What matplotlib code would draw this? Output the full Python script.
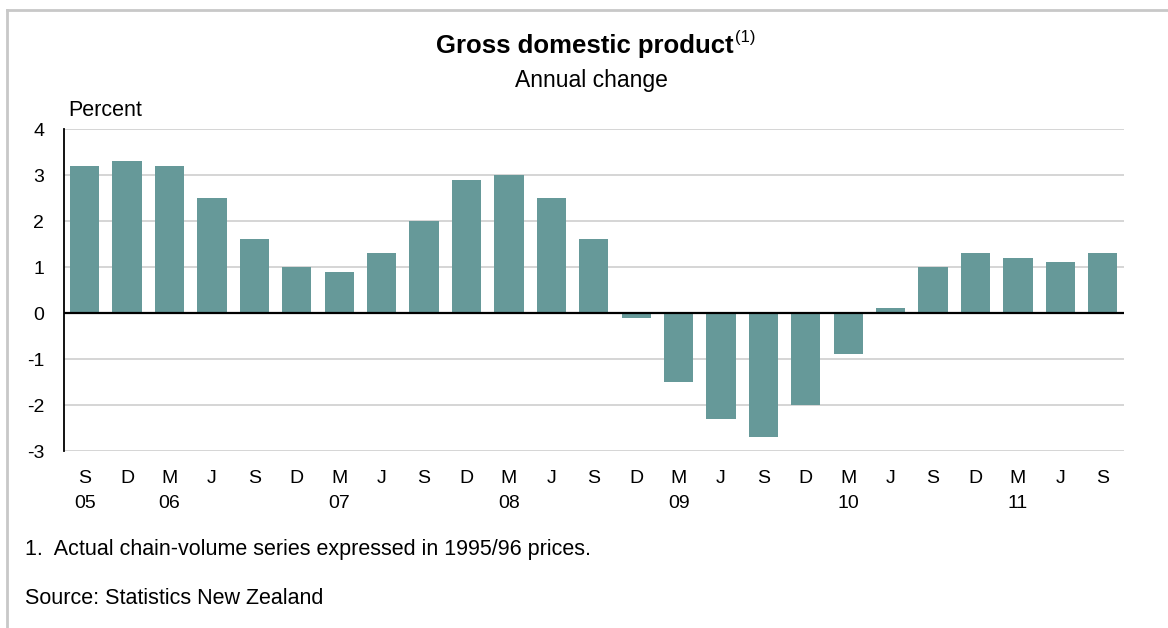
import matplotlib.pyplot as plt
from matplotlib.lines import Line2D

plt.rcParams['font.family'] = ['Liberation Sans', 'DejaVu Sans']

# Quarterly annual change in GDP, Sep 2005 - Sep 2011
quarters = ['S', 'D', 'M', 'J'] * 6 + ['S']
years = ['05', '', '06', '', '', '', '07', '', '', '', '08', '', '', '',
         '09', '', '', '', '10', '', '', '', '11', '', '']
gdp_change = [3.2, 3.3, 3.2, 2.5, 1.6, 1.0, 0.9, 1.3, 2.0, 2.9, 3.0, 2.5, 1.6,
              -0.1, -1.5, -2.3, -2.7, -2.0, -0.9, 0.1, 1.0, 1.3, 1.2, 1.1, 1.3]
yticks = [-3, -2, -1, 0, 1, 2, 3, 4]

bar_color = '#669999'
W, H = 1168, 628

fig = plt.figure(figsize=(W / 100, H / 100), dpi=100)
ax = fig.add_axes([63.5 / W, 1 - 451 / H, (1124 - 63.5) / W, (451 - 129) / H])

x = list(range(len(gdp_change)))
ax.bar(x, gdp_change, width=0.69, color=bar_color, zorder=3)

ax.set_xlim(-0.5, len(gdp_change) - 0.5)
ax.set_ylim(-3, 4)
ax.set_yticks(yticks)
ax.set_yticklabels([str(v) for v in yticks], fontsize=14)
ax.set_xticks(x)
ax.set_xticklabels([q + '\n' + y for q, y in zip(quarters, years)],
                   fontsize=14, linespacing=1.55)
ax.tick_params(axis='both', length=0)
ax.tick_params(axis='x', pad=14)
ax.tick_params(axis='y', pad=14)

for v in yticks:
    if v != 0:
        ax.axhline(v, color='#d2d2d2', lw=1.3, zorder=1)
ax.axhline(0, color='black', lw=1.6, zorder=4)

for side in ['top', 'right', 'bottom']:
    ax.spines[side].set_visible(False)
ax.spines['left'].set_color('black')
ax.spines['left'].set_linewidth(1.3)

# titles
title = fig.text(585 / W, 1 - 46 / H, 'Gross domestic product', ha='center', va='center',
                 fontsize=18.5, fontweight='bold')
fig.canvas.draw()
bb = title.get_window_extent()
fig.text(bb.x1 / W + 1 / W, bb.y1 / H + 4 / H, '(1)', ha='left', va='top', fontsize=12)
fig.text(591 / W, 1 - 80 / H, 'Annual change', ha='center', va='center', fontsize=16.5)
fig.text(68 / W, 1 - 110 / H, 'Percent', ha='left', va='center', fontsize=15.5)

# notes
fig.text(25 / W, 1 - 549 / H, '1.  Actual chain-volume series expressed in 1995/96 prices.',
         ha='left', va='center', fontsize=15.5)
fig.text(25 / W, 1 - 599 / H, 'Source: Statistics New Zealand',
         ha='left', va='center', fontsize=15.5)

# outer frame
fig.add_artist(Line2D([7 / W, 1], [1 - 10 / H, 1 - 10 / H], transform=fig.transFigure,
                      color='#c8c8c8', lw=2))
fig.add_artist(Line2D([7 / W, 7 / W], [0, 1 - 10 / H], transform=fig.transFigure,
                      color='#c8c8c8', lw=2))

fig.savefig('out.png', dpi=100, facecolor='white')
